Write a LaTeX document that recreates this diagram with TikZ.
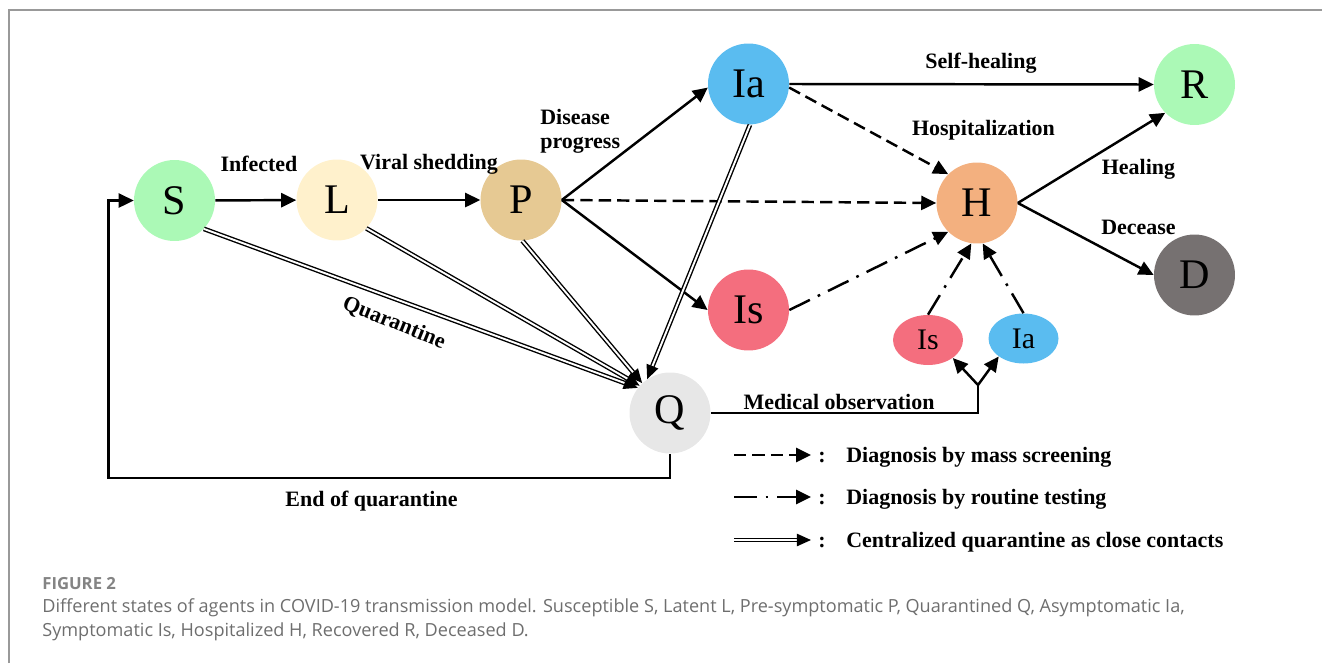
\documentclass[tikz,border=0pt]{standalone}
\usepackage{fontspec}
\setmainfont{Liberation Serif}
\newfontfamily\capfont{Open Sans}
\usetikzlibrary{arrows.meta,shapes.geometric}

\definecolor{sgreen}{HTML}{ABF9B6}
\definecolor{lcream}{HTML}{FFF1CC}
\definecolor{ptan}{HTML}{E6C993}
\definecolor{iablue}{HTML}{5ABCF0}
\definecolor{isred}{HTML}{F46E7E}
\definecolor{horange}{HTML}{F3B07F}
\definecolor{dgray}{HTML}{767171}
\definecolor{qgray}{HTML}{E7E7E7}
\definecolor{capgray}{HTML}{6E6E6E}

\tikzset{
  state/.style={circle, minimum size=1.62cm, inner sep=0pt, font=\fontsize{24}{26}\selectfont},
  smallstate/.style={ellipse, minimum width=1.4cm, minimum height=1cm, inner sep=0pt, font=\fontsize{17}{19}\selectfont},
  lbl/.style={inner sep=0pt, anchor=base, font=\fontsize{12.5}{14}\selectfont\bfseries},
  flow/.style={line width=1.4pt, -{Triangle[length=8.5pt,width=8pt]}},
  screen/.style={flow, dash pattern=on 7pt off 3.5pt},
  routine/.style={flow, dash pattern=on 13pt off 5pt on 1.5pt off 5pt},
  contact/.style={double, double distance=1.1pt, line width=0.8pt, -{Triangle[length=8pt,width=7pt]}},
}

\begin{document}
\begin{tikzpicture}[x=0.02cm, y=-0.02cm]
  \useasboundingbox (0,0) rectangle (1322,663);
  % frame
  \draw[black!40, line width=1pt] (9,663) -- (9,10) -- (1322,10);

  % states
  \node[state, fill=sgreen] (S) at (174.5,200.5) {S};
  \node[state, fill=lcream] (L) at (337,200) {L};
  \node[state, fill=ptan] (P) at (521,200) {P};
  \node[state, fill=iablue] (Ia) at (748.5,84) {Ia};
  \node[state, fill=isred] (Is) at (748.5,310) {Is};
  \node[state, fill=qgray] (Q) at (670,413) {Q};
  \node[state, fill=horange] (H) at (977,203) {H};
  \node[state, fill=sgreen] (R) at (1194.5,84.5) {R};
  \node[state, fill=dgray] (D) at (1194.5,275) {D};
  \node[smallstate, fill=isred] (smIs) at (928,340) {Is};
  \node[smallstate, fill=iablue] (smIa) at (1023.5,338.5) {Ia};

  % transitions
  \draw[flow] (S) -- (L);
  \draw[flow] (L) -- (P);
  \draw[flow] (P.east) -- (Ia.185);
  \draw[flow] (P.east) -- (Is.west);
  \draw[screen] (P.east) -- (H.west);
  \draw[flow] (Ia.east) -- (R.west);
  \draw[screen] (Ia.-5) -- (H.135);
  \draw[routine] (Is.east) -- (H.225);
  \draw[routine] (smIs.north) -- (H.-98);
  \draw[routine] (smIa.north) -- (H.-82);
  \draw[flow] (H.east) -- (R.224);
  \draw[flow] (H.east) -- (D.west);

  % close contacts
  \draw[contact] (S.-44) -- (Q.142);
  \draw[contact] (L.-44) -- (Q.138);
  \draw[contact] (P.-88) -- (Q.133);
  \draw[contact] (Ia.-88) -- (Q.124);

  % medical observation
  \coordinate (fork) at (978,385);
  \draw[line width=1.4pt] (Q.east) -| (fork);
  \draw[flow] (fork) -- (smIs.-36);
  \draw[flow] (fork) -- (smIa.-144);

  % end of quarantine
  \coordinate (loopcorner) at (108.6,478);
  \draw[flow] (Q.south) |- (loopcorner) |- (S.west);

  % labels
  \node[lbl] (infected) at (259,171) {Infected};
  \node[lbl] (shedding) at (429,169) {Viral shedding};
  \node[lbl, anchor=base west] (disease) at (540,124) {Disease};
  \node[lbl, anchor=base west] (progress) at (540,148) {progress};
  \node[lbl] (selfheal) at (981,68) {Self-healing};
  \node[lbl] (hospital) at (983.5,135) {Hospitalization};
  \node[lbl] (healing) at (1138.5,174) {Healing};
  \node[lbl] (decease) at (1138.5,234) {Decease};
  \node[lbl, anchor=center, rotate=-22] (quarantine) at (394,323) {Quarantine};
  \node[lbl] (medobs) at (839,409) {Medical observation};
  \node[lbl] (endq) at (371.5,506) {End of quarantine};

  % legend
  \coordinate (k1a) at (734,455); \coordinate (k1b) at (811,455);
  \coordinate (k2a) at (734,497); \coordinate (k2b) at (811,497);
  \coordinate (k3a) at (734,540); \coordinate (k3b) at (811,540);
  \draw[screen] (k1a) -- (k1b);
  \draw[routine] (k2a) -- (k2b);
  \draw[contact] (k3a) -- (k3b);
  \node[lbl] (c1) at (822,462) {:};
  \node[lbl] (c2) at (822,504) {:};
  \node[lbl] (c3) at (822,547) {:};
  \node[lbl, anchor=base west] (t1) at (846,462) {Diagnosis by mass screening};
  \node[lbl, anchor=base west] (t2) at (846,504) {Diagnosis by routine testing};
  \node[lbl, anchor=base west] (t3) at (846,547) {Centralized quarantine as close contacts};

  % caption
  \node[anchor=base west, inner sep=0pt, text=capgray!85, font=\capfont\fontsize{9.5}{11}\selectfont\bfseries] (figno) at (42,589) {FIGURE 2};
  \node[anchor=base west, inner sep=0pt, text=capgray, font=\capfont\fontsize{10.3}{12}\selectfont] (cap1) at (42,612.7) {Different states of agents in COVID-19 transmission model. Susceptible S, Latent L, Pre-symptomatic P, Quarantined Q, Asymptomatic Ia,};
  \node[anchor=base west, inner sep=0pt, text=capgray, font=\capfont\fontsize{10.3}{12}\selectfont] (cap2) at (42,636) {Symptomatic Is, Hospitalized H, Recovered R, Deceased D.};
\end{tikzpicture}
\end{document}
